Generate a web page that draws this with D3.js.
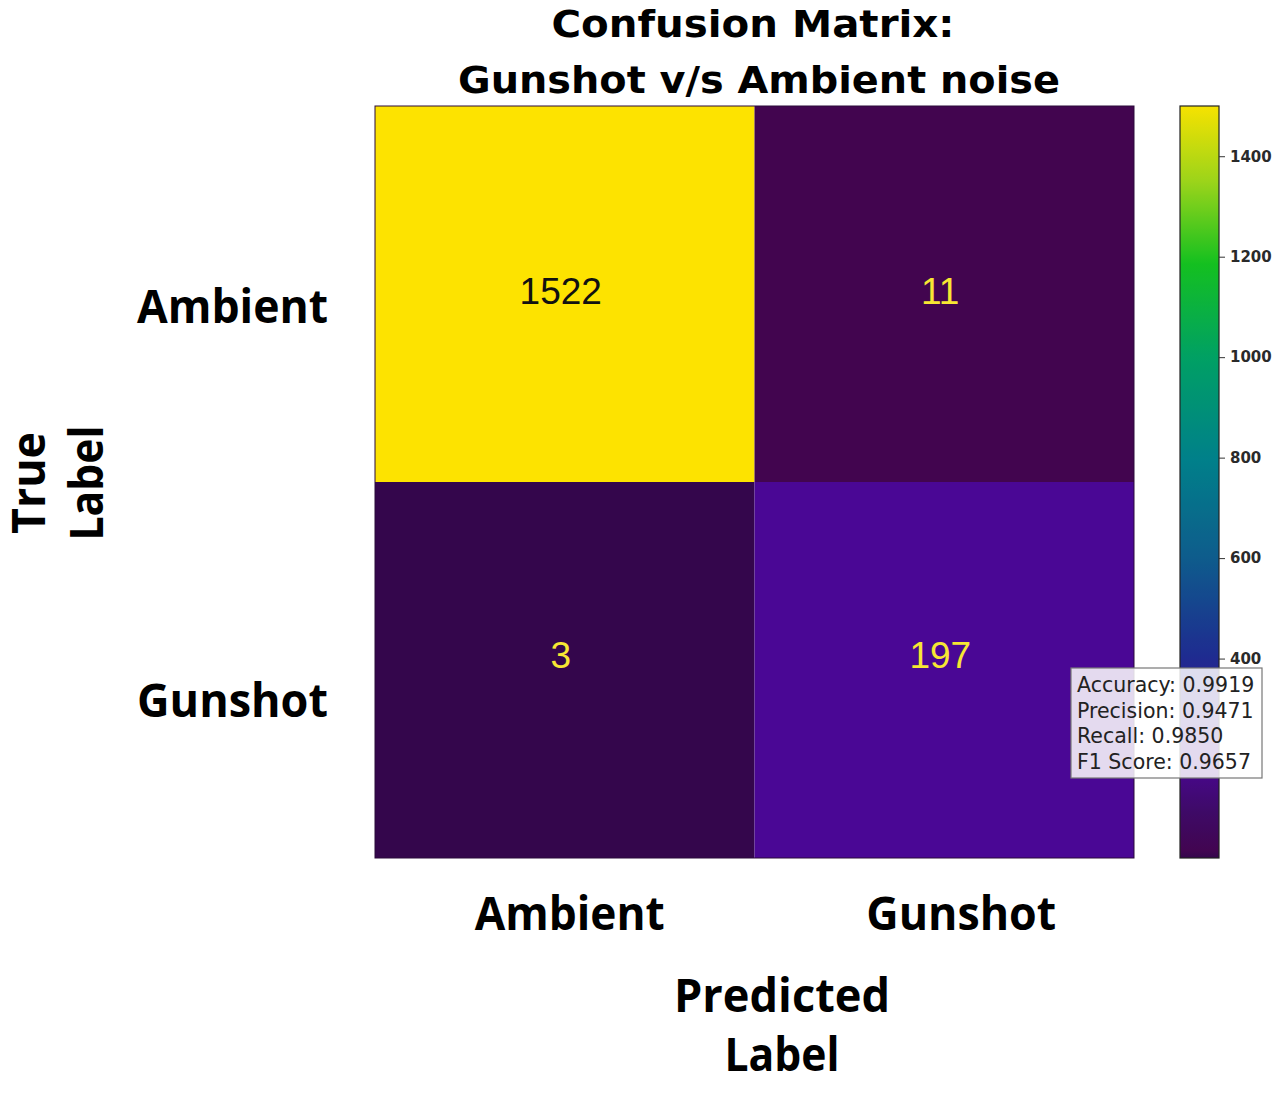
<!DOCTYPE html>
<html><head><meta charset="utf-8">
<script src="https://cdn.jsdelivr.net/npm/d3@7"></script>
<style>body{margin:0;background:#fff}svg{display:block}</style>
</head><body>
<svg id="chart" width="1280" height="1097"></svg>
<script>
const predictedLabels = ["Ambient", "Gunshot"];
const trueLabels = ["Ambient", "Gunshot"];
const rowAmbient = [1522, 11];
const rowGunshot = [3, 197];
const colorbarTicks = [400, 600, 800, 1000, 1200, 1400];
const colorDomain = [3, 1500];
const metricNames = ["Accuracy", "Precision", "Recall", "F1 Score"];
const metricValues = [0.9919, 0.9471, 0.9850, 0.9657];

const matrix = [rowAmbient, rowGunshot];
const cells = [];
matrix.forEach((row, i) => row.forEach((v, j) => cells.push({ t: trueLabels[i], p: predictedLabels[j], v, i, j })));

const svg = d3.select("#chart");
const x = d3.scaleBand().domain(predictedLabels).range([375, 1134]);
const y = d3.scaleBand().domain(trueLabels).range([106, 858]);

const stops = ["#34064c", "#42054f", "#3e0a66", "#4a0795", "#1e2c90", "#0e5c8c", "#00808a", "#00a064", "#14c020", "#9cd41a", "#f6e200"];
const stopPos = [0, 0.005, 0.06, 0.13, 0.27, 0.4, 0.53, 0.665, 0.79, 0.9, 1];
const cmap = d3.scaleLinear().domain(stopPos).range(stops).interpolate(d3.interpolateRgb).clamp(true);
const norm = d3.scaleLinear().domain(colorDomain).range([0, 1]).clamp(true);
const color = v => v >= colorDomain[1] ? "#fde300" : cmap(norm(v));

svg.append("g").selectAll("rect").data(cells).join("rect")
  .attr("x", d => x(d.p)).attr("y", d => y(d.t))
  .attr("width", x.bandwidth()).attr("height", y.bandwidth())
  .attr("fill", d => color(d.v));
svg.append("rect").attr("x", 375).attr("y", 106).attr("width", 759).attr("height", 752)
  .attr("fill", "none").attr("stroke", "#2a0a3a").attr("stroke-width", 1);

svg.append("g").selectAll("text").data(cells).join("text")
  .attr("x", d => x(d.p) + x.bandwidth() / 2 - 4)
  .attr("y", d => y(d.t) + y.bandwidth() / 2 - 3 - d.i * 12)
  .attr("text-anchor", "middle").attr("dominant-baseline", "central")
  .attr("font-family", "Liberation Sans, Arial, sans-serif").attr("font-size", 37)
  .attr("fill", d => norm(d.v) > 0.5 ? "#111" : "#f7e733")
  .text(d => d.v);

// colorbar
const cbX = 1180, cbW = 39;
const cy = d3.scaleLinear().domain(colorDomain).range([858, 106]);
const defs = svg.append("defs");
const grad = defs.append("linearGradient").attr("id", "cbgrad").attr("x1", 0).attr("y1", 1).attr("x2", 0).attr("y2", 0);
d3.range(0, 1.0001, 0.01).forEach(t => grad.append("stop").attr("offset", t).attr("stop-color", cmap(t)));
svg.append("rect").attr("x", cbX).attr("y", 106).attr("width", cbW).attr("height", 752)
  .attr("fill", "url(#cbgrad)").attr("stroke", "#222").attr("stroke-width", 1.2);
const cbAxis = d3.axisRight(cy).tickValues(colorbarTicks).tickFormat(d3.format("d")).tickSize(6).tickPadding(5);
const cbg = svg.append("g").attr("transform", `translate(${cbX + cbW},0)`).call(cbAxis);
cbg.select(".domain").remove();
cbg.selectAll("line").attr("stroke", "#333");
cbg.selectAll("text").attr("font-family", "DejaVu Sans, sans-serif").attr("font-weight", "bold")
  .attr("font-size", 15).attr("fill", "#2a2a2a");

// metrics box
const bx = 1071, by = 668, bw = 191, bh = 110;
svg.append("rect").attr("x", bx).attr("y", by).attr("width", bw).attr("height", bh)
  .attr("fill", "#ffffff").attr("fill-opacity", 0.85).attr("stroke", "#777").attr("stroke-width", 1.2);
svg.append("g").selectAll("text").data(metricNames).join("text")
  .attr("x", bx + 6).attr("y", (d, i) => by + 24 + i * 25.6)
  .attr("font-family", "DejaVu Sans, sans-serif").attr("font-size", 20.5).attr("fill", "#222")
  .text((d, i) => `${d}: ${metricValues[i].toFixed(4)}`);

// titles
const titleFont = "'DejaVu Sans', sans-serif";
svg.append("text").attr("x", 753).attr("y", 37).attr("text-anchor", "middle")
  .attr("font-family", titleFont).attr("font-weight", "bold").attr("font-size", 38)
  .attr("textLength", 403).attr("lengthAdjust", "spacingAndGlyphs").text("Confusion Matrix:");
svg.append("text").attr("x", 759).attr("y", 93).attr("text-anchor", "middle")
  .attr("font-family", titleFont).attr("font-weight", "bold").attr("font-size", 38)
  .attr("textLength", 602).attr("lengthAdjust", "spacingAndGlyphs").text("Gunshot v/s Ambient noise");

const lblFont = "'Open Sans', sans-serif";
// y tick labels
svg.append("g").selectAll("text").data(trueLabels).join("text")
  .attr("x", 328).attr("y", (d, i) => y(d) + y.bandwidth() / 2 + 29 + i * 18)
  .attr("text-anchor", "end").attr("font-family", lblFont).attr("font-weight", 700).attr("font-size", 46)
  .attr("textLength", 191).attr("lengthAdjust", "spacingAndGlyphs")
  .text(d => d);
// x tick labels
svg.append("g").selectAll("text").data(predictedLabels).join("text")
  .attr("x", (d, i) => x(d) + x.bandwidth() / 2 + 5 + i * 12).attr("y", 930)
  .attr("text-anchor", "middle").attr("font-family", lblFont).attr("font-weight", 700).attr("font-size", 46)
  .attr("textLength", 190).attr("lengthAdjust", "spacingAndGlyphs")
  .text(d => d);
// axis titles
svg.append("text").attr("x", 782).attr("y", 1012).attr("text-anchor", "middle")
  .attr("font-family", lblFont).attr("font-weight", 700).attr("font-size", 46)
  .attr("textLength", 216).attr("lengthAdjust", "spacingAndGlyphs").text("Predicted");
svg.append("text").attr("x", 782).attr("y", 1071).attr("text-anchor", "middle")
  .attr("font-family", lblFont).attr("font-weight", 700).attr("font-size", 46)
  .attr("textLength", 115).attr("lengthAdjust", "spacingAndGlyphs").text("Label");
svg.append("text").attr("transform", "translate(45,483) rotate(-90)").attr("text-anchor", "middle")
  .attr("font-family", lblFont).attr("font-weight", 700).attr("font-size", 46)
  .attr("textLength", 102).attr("lengthAdjust", "spacingAndGlyphs").text("True");
svg.append("text").attr("transform", "translate(103,483) rotate(-90)").attr("text-anchor", "middle")
  .attr("font-family", lblFont).attr("font-weight", 700).attr("font-size", 46)
  .attr("textLength", 115).attr("lengthAdjust", "spacingAndGlyphs").text("Label");
</script>
</body></html>
